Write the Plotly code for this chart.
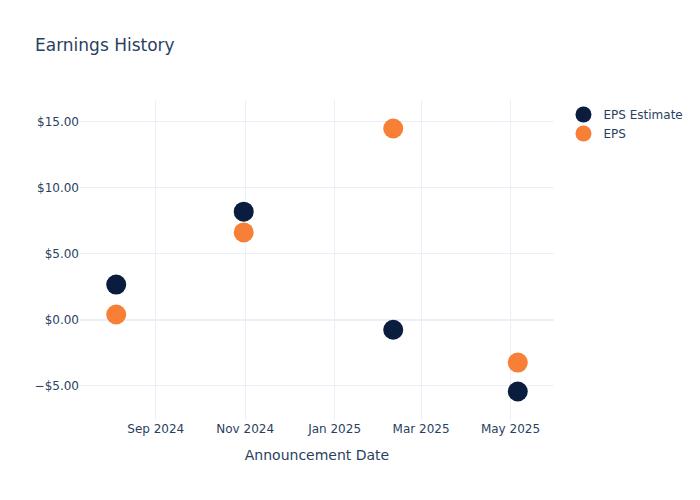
import plotly.graph_objects as go

# earnings announcements
dates = ['2024-08-05', '2024-10-31', '2025-02-10', '2025-05-06']
eps_estimate = [2.65, 8.17, -0.77, -5.45]
eps_actual = [0.38, 6.60, 14.47, -3.26]

fig = go.Figure()
fig.add_trace(go.Scatter(x=dates, y=eps_estimate, mode='markers', name='EPS Estimate',
                         marker=dict(size=20, color='#0b1d3f')))
fig.add_trace(go.Scatter(x=dates, y=eps_actual, mode='markers', name='EPS',
                         marker=dict(size=20, color='#f78036')))

# page body has an 8px margin, so shrink the figure to keep everything in view
fig.update_layout(
    template='plotly_white',
    font=dict(family='DejaVu Sans'),
    title=dict(text='Earnings History', x=27 / 692, xanchor='left',
               y=1 - 37 / 492, yanchor='middle'),
    width=692, height=492,
    margin=dict(l=72, t=92, b=80),
    xaxis=dict(title='Announcement Date', dtick='M2', tickformat='%b %Y'),
    yaxis=dict(tickformat='$.2f'),
)
fig.write_html("out.html")
